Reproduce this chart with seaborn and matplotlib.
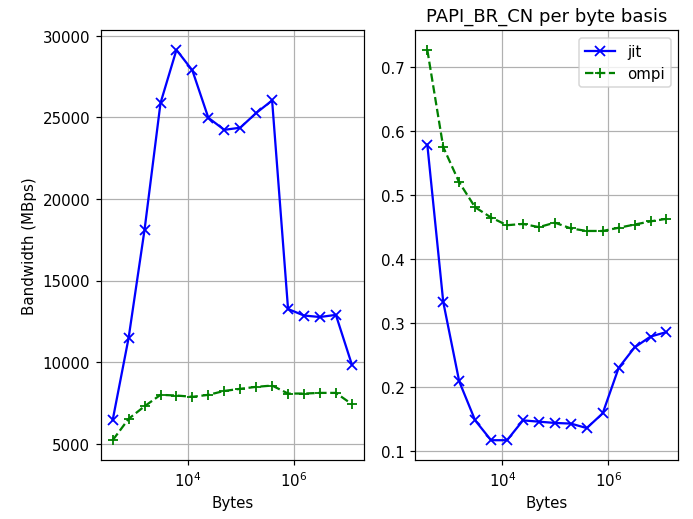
import numpy as np
import pandas as pd
import matplotlib
matplotlib.use("Agg")
import matplotlib.pyplot as plt
import matplotlib.ticker as mticker
import seaborn as sns

# message sizes (bytes): 384 * 2^k
BYTES = [384 * 2**k for k in range(16)]

# left: bandwidth (MBps)
BW_JIT  = [6450, 11490, 18120, 25880, 29140, 27880, 24980, 24240,
           24370, 25270, 26040, 13260, 12860, 12770, 12900, 9860]
BW_OMPI = [5220, 6530, 7300, 8000, 7960, 7880, 8000, 8240,
           8370, 8490, 8570, 8080, 8080, 8120, 8120, 7430]

# right: PAPI_BR_CN per byte
BR_JIT  = [0.579, 0.333, 0.209, 0.148, 0.117, 0.117, 0.148, 0.146,
           0.144, 0.143, 0.136, 0.159, 0.230, 0.262, 0.279, 0.286]
BR_OMPI = [0.727, 0.575, 0.520, 0.481, 0.465, 0.453, 0.455, 0.450,
           0.457, 0.448, 0.444, 0.444, 0.449, 0.454, 0.459, 0.463]

XTICKS = [1e4, 1e6]

fig, (ax1, ax2) = plt.subplots(1, 2, figsize=(6.4, 4.8), dpi=108.3)
fig.subplots_adjust(left=0.1453, right=0.9788, bottom=0.114, top=0.940, wspace=0.196)

def draw(ax, jit, ompi):
    sns.lineplot(x=BYTES, y=jit, ax=ax, color="blue", marker="x",
                 markersize=7, markeredgewidth=1.2, markeredgecolor="blue", label="jit")
    sns.lineplot(x=BYTES, y=ompi, ax=ax, color="green", marker="+", linestyle="--",
                 markersize=7, markeredgewidth=1.2, markeredgecolor="green", label="ompi")
    ax.set_xscale("log")
    ax.set_xticks(XTICKS)
    ax.xaxis.set_minor_locator(mticker.NullLocator())
    ax.set_xlabel("Bytes")
    ax.grid(True)

draw(ax1, BW_JIT, BW_OMPI)
ax1.set_ylabel("Bandwidth (MBps)")
ax1.get_legend().remove()

draw(ax2, BR_JIT, BR_OMPI)
ax2.set_title("PAPI_BR_CN per byte basis")
ax2.legend(loc="upper right")

fig.savefig("out.png", dpi=108.3)
